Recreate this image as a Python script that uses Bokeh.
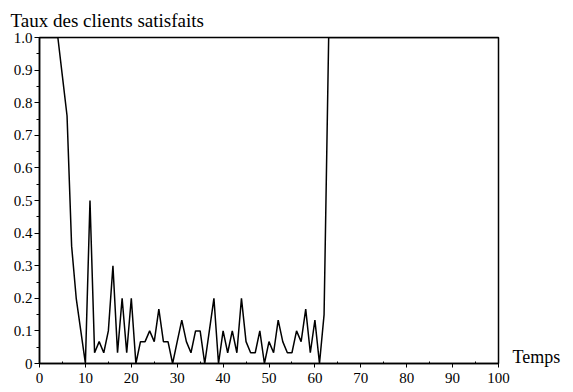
from bokeh.plotting import figure
from bokeh.models import FixedTicker, Range1d, Title, LinearAxis
from bokeh.embed import file_html
from bokeh.resources import INLINE

# Data
temps = list(range(0, 101))
taux = [
    1.0, 1.0, 1.0, 1.0, 1.0,                 # t 0-4
    0.88, 0.76, 0.36, 0.2, 0.1,             # t 5-9
    0.0, 0.5, 0.033, 0.067, 0.033,          # t 10-14
    0.1, 0.3, 0.033, 0.2, 0.033,            # t 15-19
    0.2, 0.0, 0.067, 0.067, 0.1,            # t 20-24
    0.067, 0.167, 0.067, 0.067, 0.0,        # t 25-29
    0.067, 0.133, 0.067, 0.033, 0.1,        # t 30-34
    0.1, 0.0, 0.1, 0.2, 0.0,                # t 35-39
    0.1, 0.033, 0.1, 0.033, 0.2,            # t 40-44
    0.067, 0.033, 0.033, 0.1, 0.0,          # t 45-49
    0.067, 0.033, 0.133, 0.067, 0.033,      # t 50-54
    0.033, 0.1, 0.067, 0.167, 0.033,        # t 55-59
    0.133, 0.0, 0.15, 1.0, 1.0,             # t 60-64
    1.0, 1.0, 1.0, 1.0, 1.0,                # t 65-69
    1.0, 1.0, 1.0, 1.0, 1.0,                # t 70-74
    1.0, 1.0, 1.0, 1.0, 1.0,                # t 75-79
    1.0, 1.0, 1.0, 1.0, 1.0,                # t 80-84
    1.0, 1.0, 1.0, 1.0, 1.0,                # t 85-89
    1.0, 1.0, 1.0, 1.0, 1.0,                # t 90-94
    1.0, 1.0, 1.0, 1.0, 1.0,                # t 95-99
    1.0,                                    # t 100
]

x_ticks = [0, 10, 20, 30, 40, 50, 60, 70, 80, 90, 100]
x_minor = [5, 15, 25, 35, 45, 55, 65, 75, 85, 95]
y_ticks = [0, 0.1, 0.2, 0.3, 0.4, 0.5, 0.6, 0.7, 0.8, 0.9, 1.0]
y_labels = ["0", "0.1", "0.2", "0.3", "0.4", "0.5", "0.6", "0.7", "0.8", "0.9", "1.0"]
y_minor = [0.05, 0.15, 0.25, 0.35, 0.45, 0.55, 0.65, 0.75, 0.85, 0.95]

title_text = "Taux des clients satisfaits"
x_name = "Temps"

FONT = "Liberation Serif"

W, H = 570, 388
p = figure(width=W, height=H, output_backend="svg", toolbar_location=None,
           x_range=Range1d(0, 100), y_range=Range1d(0, 1.0),
           min_border_left=39, min_border_right=72,
           min_border_top=37, min_border_bottom=25)
p.grid.visible = False
p.background_fill_color = "white"
p.border_fill_color = "white"
p.outline_line_color = "black"
p.outline_line_width = 1.5

p.line(temps, taux, line_color="black", line_width=1.5)

# x axis
xa = p.xaxis[0]
xa.ticker = FixedTicker(ticks=x_ticks, minor_ticks=x_minor)
xa.axis_line_width = 1.5
xa.major_tick_in = 0
xa.major_tick_out = 4
xa.minor_tick_in = 2
xa.minor_tick_out = 0
xa.major_label_standoff = 5
xa.major_label_text_font = FONT
xa.major_label_text_font_size = "15px"
xa.major_label_text_color = "black"

# y axis
ya = p.yaxis[0]
ya.ticker = FixedTicker(ticks=y_ticks, minor_ticks=y_minor)
ya.major_label_overrides = {t: l for t, l in zip(y_ticks, y_labels)}
ya.axis_line_width = 1.5
ya.major_tick_in = 0
ya.major_tick_out = 5
ya.minor_tick_in = 0
ya.minor_tick_out = 3
ya.major_label_standoff = 2
ya.major_label_text_font = FONT
ya.major_label_text_font_size = "15px"
ya.major_label_text_color = "black"

# "Temps" as a label-only axis on the right, just above y = 0
temps_pos = 0.02
ra = LinearAxis(ticker=FixedTicker(ticks=[temps_pos], minor_ticks=[]),
                major_label_overrides={temps_pos: x_name})
ra.axis_line_color = None
ra.major_tick_line_color = None
ra.minor_tick_line_color = None
ra.major_tick_in = 0
ra.major_tick_out = 0
ra.major_label_standoff = 14
ra.major_label_text_font = FONT
ra.major_label_text_font_size = "18px"
ra.major_label_text_color = "black"
p.add_layout(ra, "right")

# y title (top-left)
t = Title(text=title_text, align="left", offset=-29, standoff=13,
          text_font=FONT, text_font_size="19px", text_font_style="normal",
          text_color="black")
p.add_layout(t, "above")

open("out.html", "w").write(file_html(p, INLINE))
